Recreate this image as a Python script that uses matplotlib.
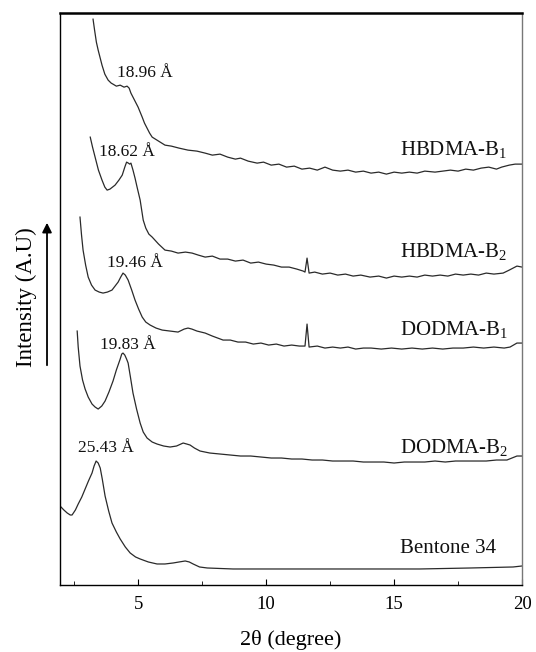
import matplotlib
matplotlib.use("Agg")
import matplotlib.pyplot as plt

plt.rcParams['font.family'] = ['Liberation Serif', 'DejaVu Serif']
plt.rcParams['mathtext.fontset'] = 'custom'
plt.rcParams['mathtext.rm'] = 'Liberation Serif'
plt.rcParams['mathtext.it'] = 'Liberation Serif'

# %%
# XRD patterns (intensity in arbitrary units, curves offset vertically)
x_hb1 = [3.24, 3.30, 3.37, 3.44, 3.52, 3.59, 3.70, 3.83, 3.95, 4.02, 4.15, 4.30, 4.45, 4.57,
         4.65, 4.72, 4.80, 4.90, 5.00, 5.16, 5.25, 5.35, 5.45, 5.55, 5.80, 6.05, 6.30, 6.60,
         6.95, 7.30, 7.62, 7.9, 8.2, 8.5, 8.8, 9.0, 9.3, 9.65, 9.9, 10.2, 10.5, 10.8, 11.1,
         11.4, 11.7, 12.0, 12.3, 12.6, 12.9, 13.2, 13.5, 13.8, 14.1, 14.4, 14.7, 15.0, 15.3,
         15.6, 15.9, 16.2, 16.6, 16.9, 17.2, 17.5, 17.8, 18.1, 18.4, 18.7, 19.0, 19.2, 19.5,
         19.73, 20.0]
y_hb1 = [566, 555, 543, 535, 527, 520, 511, 505, 502, 501, 499, 500, 498, 499,
         497, 492, 488, 483, 478, 468, 462, 457, 452, 448, 444, 440, 439, 437,
         435, 434, 432, 430, 431, 428, 426, 427, 424, 422, 423, 420, 421, 418, 419,
         416, 417, 415, 418, 415, 414, 415, 413, 414, 412, 413, 411, 413, 412,
         413, 412, 414, 413, 414, 415, 414, 416, 415, 417, 418, 416, 418, 420,
         421, 421]

x_hb2 = [3.13, 3.22, 3.32, 3.45, 3.59, 3.70, 3.79, 3.90, 4.00, 4.10, 4.25, 4.38, 4.48, 4.55,
         4.62, 4.67, 4.72, 4.80, 4.88, 4.96, 5.08, 5.14, 5.20, 5.30, 5.42, 5.55, 5.80, 6.05,
         6.30, 6.56, 6.85, 7.11, 7.35, 7.62, 7.9, 8.2, 8.5, 8.8, 9.1, 9.4, 9.7, 10.0, 10.3,
         10.6, 10.9, 11.2, 11.45, 11.52, 11.6, 11.68, 11.9, 12.2, 12.5, 12.8, 13.1, 13.4, 13.7,
         14.06, 14.4, 14.7, 15.0, 15.3, 15.6, 15.9, 16.2, 16.5, 16.8, 17.1, 17.4, 17.7, 18.0,
         18.3, 18.6, 18.9, 19.26, 19.5, 19.8, 20.0]
y_hb2 = [448, 438, 428, 415, 405, 398, 395, 396, 398, 400, 405, 410, 418, 423,
         422, 421, 422, 415, 407, 398, 385, 375, 365, 357, 351, 348, 341, 335,
         334, 332, 333, 332, 330, 328, 329, 326, 326, 324, 325, 322, 323, 321, 320,
         318, 318, 316, 314, 313, 327, 312, 313, 311, 312, 310, 311, 309, 310,
         308, 309, 307, 309, 308, 309, 308, 310, 309, 310, 309, 311, 310, 311,
         310, 312, 311, 312, 315, 319, 318]

x_do1 = [2.73, 2.79, 2.85, 2.95, 3.05, 3.18, 3.32, 3.48, 3.63, 3.80, 3.98, 4.10, 4.22, 4.32,
         4.41, 4.50, 4.61, 4.75, 4.88, 5.02, 5.16, 5.30, 5.47, 5.70, 5.94, 6.25, 6.56, 6.80,
         6.95, 7.10, 7.30, 7.62, 7.9, 8.32, 8.6, 8.9, 9.2, 9.5, 9.8, 10.1, 10.4, 10.7, 11.0,
         11.3, 11.52, 11.6, 11.68, 12.0, 12.3, 12.6, 12.9, 13.2, 13.5, 13.8, 14.1, 14.5, 14.9,
         15.3, 15.7, 16.1, 16.5, 16.9, 17.3, 17.7, 18.1, 18.5, 18.9, 19.3, 19.53, 19.8, 20.0]
y_do1 = [368, 350, 335, 320, 308, 300, 295, 293, 292, 293, 295, 299, 303, 308,
         312, 310, 305, 295, 285, 276, 268, 263, 260, 257, 255, 254, 253, 256,
         257, 256, 254, 252, 249, 245, 245, 243, 243, 241, 242, 240, 241, 239, 240,
         239, 239, 261, 238, 239, 237, 238, 237, 238, 236, 237, 237, 236, 237,
         236, 237, 236, 237, 236, 237, 237, 238, 237, 238, 237, 238, 242, 242]

x_do2 = [2.62, 2.66, 2.73, 2.83, 2.93, 3.05, 3.20, 3.32, 3.44, 3.58, 3.71, 3.86, 4.02, 4.15,
         4.30, 4.36, 4.41, 4.48, 4.55, 4.61, 4.70, 4.80, 4.94, 5.08, 5.20, 5.35, 5.55, 5.74,
         6.00, 6.25, 6.50, 6.76, 6.90, 7.03, 7.20, 7.42, 7.80, 8.2, 8.6, 9.0, 9.4, 9.8, 10.2,
         10.6, 11.0, 11.4, 11.8, 12.2, 12.6, 13.0, 13.4, 13.8, 14.2, 14.6, 15.0, 15.4, 15.8,
         16.2, 16.6, 17.0, 17.4, 17.8, 18.2, 18.6, 19.0, 19.41, 19.8, 20.0]
y_do2 = [254, 238, 219, 205, 196, 188, 181, 178, 176, 179, 184, 193, 204, 215,
         226, 231, 232, 230, 226, 222, 208, 192, 176, 162, 153, 147, 143, 141,
         139, 138, 139, 142, 141, 140, 137, 134, 132, 131, 130, 129, 129, 128, 127,
         127, 126, 126, 125, 125, 124, 124, 124, 123, 123, 123, 122, 123, 123,
         123, 124, 123, 124, 124, 124, 124, 125, 125, 129, 129]

x_ben = [1.95, 2.10, 2.23, 2.35, 2.42, 2.55, 2.66, 2.80, 2.93, 3.06, 3.20, 3.28, 3.36, 3.44,
         3.52, 3.60, 3.71, 3.85, 3.98, 4.15, 4.30, 4.50, 4.69, 4.90, 5.08, 5.40, 5.74, 6.05,
         6.37, 6.60, 6.84, 7.00, 7.15, 7.40, 7.70, 8.2, 8.71, 10.0, 12.0, 14.06, 16.0, 18.0,
         19.65, 20.0]
y_ben = [79, 75, 72, 70, 70, 75, 81, 88, 96, 104, 112, 119, 124, 122,
         117, 106, 89, 74, 62, 53, 46, 38, 32, 28, 26, 23, 21, 21,
         22, 23, 24, 23, 21, 18, 17, 16.5, 16, 16, 16, 16, 16, 17,
         18, 19]

curves = [(x_hb1, y_hb1), (x_hb2, y_hb2), (x_do1, y_do1), (x_do2, y_do2), (x_ben, y_ben)]

sample_names = ['HBDMA-B$_1$', 'HBDMA-B$_2$', 'DODMA-B$_1$', 'DODMA-B$_2$', 'Bentone 34']
name_y = [430, 328, 250, 132, 32]

d_labels = ['18.96 Å', '18.62 Å', '19.46 Å', '19.83 Å', '25.43 Å']
d_x = [5.27, 4.57, 4.88, 4.61, 3.75]
d_y = [508, 429, 318, 236, 133]

# %%
fig = plt.figure(figsize=(5.36, 6.52), dpi=100)
ax = fig.add_axes([0.112, 0.1028, 0.862, 0.877])

for xs, ys in curves:
    ax.plot(xs, ys, color='#2a2a2a', lw=0.9)

for name, yy in zip(sample_names, name_y):
    ax.text(15.23, yy, name, fontsize=15, ha='left', va='baseline', color='#111')

for lab, xx, yy in zip(d_labels, d_x, d_y):
    ax.text(xx, yy, lab, fontsize=12.5, ha='center', va='baseline', color='#111')

ax.set_xlim(1.95, 20)
ax.set_ylim(0, 572)
ax.set_xticks([5, 10, 15, 20])
ax.set_xticks([2.5, 7.5, 12.5, 17.5], minor=True)
ax.set_yticks([])
ax.tick_params(axis='x', which='major', direction='in', length=4, labelsize=13.5, pad=8)
ax.tick_params(axis='x', which='minor', direction='in', length=3)

ax.spines['top'].set_linewidth(1.8)
ax.spines['left'].set_linewidth(1.0)
ax.spines['bottom'].set_linewidth(1.0)
ax.spines['right'].set_linewidth(1.0)
ax.spines['right'].set_color('#777777')

ax.set_xlabel('2θ (degree)', fontsize=16, labelpad=12)

# y label with arrow
fig.text(0.05, 0.545, 'Intensity (A.U)', rotation=90, fontsize=16.5, ha='center', va='center')
fig.add_artist(matplotlib.patches.FancyArrowPatch((0.0877, 0.4356), (0.0877, 0.6626),
                                                  transform=fig.transFigure,
                                                  arrowstyle='-|>', mutation_scale=14,
                                                  color='black', lw=1.3))

fig.savefig('out.png', dpi=100)
